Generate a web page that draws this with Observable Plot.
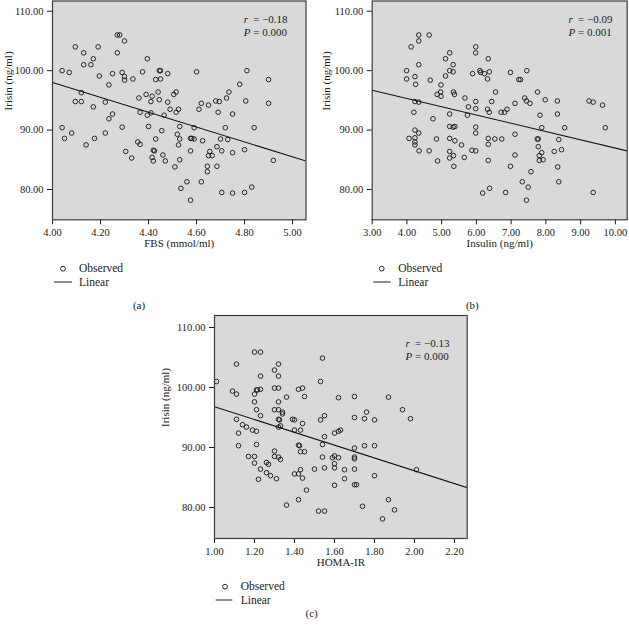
<!DOCTYPE html>
<html><head><meta charset="utf-8">
<script src="https://cdn.jsdelivr.net/npm/d3@7"></script>
<script src="https://cdn.jsdelivr.net/npm/@observablehq/plot@0.6"></script>
<style>
html,body{margin:0;padding:0;background:#fff;}
#wrap{position:relative;width:629px;height:626px;overflow:hidden;font-family:"Liberation Serif","Times New Roman",serif;}
#wrap svg{position:absolute;overflow:visible;}
</style></head><body><div id="wrap"></div>
<script>
// ---- data ----
const yTicks = [80, 90, 100, 110];
const fbsTicks = [4.0, 4.2, 4.4, 4.6, 4.8, 5.0];
const insulinTicks = [3, 4, 5, 6, 7, 8, 9, 10];
const homaTicks = [1.0, 1.2, 1.4, 1.6, 1.8, 2.0, 2.2];
const xLabels = ["FBS (mmol/ml)", "Insulin (ng/ml)", "HOMA-IR"];
const yLabel = "Irisin (ng/ml)";
const rValues = ["−0.18", "−0.09", "−0.13"];
const pValues = ["0.000", "0.001", "0.000"];
const captions = ["(a)", "(b)", "(c)"];
const legendLabels = ["Observed", "Linear"];

// [x, irisin]
const fbsPoints = [[4.27,106.0],[4.28,106.0],[4.30,105.0],[4.095,104.0],[4.19,104.0],[4.13,103.0],[4.27,103.0],[4.17,102.0],[4.395,102.0],[4.13,101.0],[4.16,101.0],[4.04,100.0],[4.07,99.7],[4.445,100.0],[4.45,100.0],[4.60,99.8],[4.81,100.0],[4.29,99.7],[4.375,99.8],[4.25,99.5],[4.48,99.5],[4.30,99.0],[4.195,99.1],[4.30,98.4],[4.335,98.6],[4.43,98.5],[4.45,98.6],[4.90,98.5],[4.78,97.7],[4.235,97.6],[4.12,96.3],[4.44,96.4],[4.515,96.4],[4.735,96.4],[4.39,96.0],[4.505,96.0],[4.415,95.7],[4.36,95.4],[4.725,95.4],[4.095,94.8],[4.12,94.8],[4.22,94.7],[4.41,94.8],[4.445,95.1],[4.48,94.7],[4.62,94.5],[4.68,94.9],[4.695,94.8],[4.805,94.9],[4.90,94.5],[4.65,94.2],[4.17,93.9],[4.49,93.5],[4.525,93.5],[4.61,93.5],[4.515,93.0],[4.365,93.0],[4.41,92.9],[4.69,93.0],[4.25,92.7],[4.75,92.7],[4.395,92.5],[4.465,92.5],[4.235,91.9],[4.04,90.4],[4.29,90.5],[4.40,90.6],[4.53,90.6],[4.59,90.4],[4.72,90.4],[4.84,90.4],[4.455,89.9],[4.08,89.5],[4.22,89.5],[4.52,89.3],[4.05,88.6],[4.175,88.6],[4.43,88.5],[4.53,88.5],[4.575,88.6],[4.58,88.6],[4.59,88.5],[4.625,88.2],[4.70,88.5],[4.73,88.4],[4.355,88.0],[4.365,87.6],[4.14,87.5],[4.525,87.5],[4.685,87.2],[4.42,86.6],[4.425,86.5],[4.305,86.4],[4.575,86.5],[4.655,86.4],[4.705,86.5],[4.75,86.2],[4.80,86.7],[4.46,85.8],[4.65,85.7],[4.665,85.7],[4.33,85.3],[4.415,85.4],[4.42,84.8],[4.47,84.8],[4.53,85.0],[4.92,84.9],[4.51,83.8],[4.645,83.9],[4.685,83.9],[4.645,83.0],[4.56,81.3],[4.62,81.3],[4.535,80.2],[4.83,80.4],[4.705,79.5],[4.75,79.4],[4.80,79.5],[4.575,78.2]];

const insulinPoints = [[4.34,106.0],[4.64,106.0],[4.34,105.0],[4.12,104.0],[5.98,104.0],[5.98,103.0],[5.23,103.0],[5.11,102.0],[6.34,102.0],[4.34,101.0],[5.33,101.0],[3.99,100.0],[5.23,100.0],[5.33,99.8],[6.10,100.0],[6.12,99.7],[6.23,99.5],[6.37,99.8],[5.89,99.5],[6.98,99.7],[7.45,100.0],[4.23,99.0],[5.11,99.1],[3.99,98.6],[4.67,98.4],[6.32,98.6],[7.22,98.5],[7.27,98.5],[4.25,97.7],[4.98,97.6],[7.76,96.4],[4.97,96.4],[5.34,96.4],[5.37,96.0],[4.87,96.0],[4.98,95.7],[6.55,96.4],[5.67,95.4],[7.39,95.4],[7.98,95.1],[4.23,94.8],[4.34,94.7],[5.98,94.8],[6.44,94.8],[7.11,94.5],[7.44,94.9],[7.54,94.5],[8.33,94.9],[9.24,94.9],[9.36,94.7],[9.63,94.2],[5.77,93.9],[5.98,93.6],[6.32,93.5],[6.37,93.0],[6.71,93.0],[6.81,93.0],[6.88,93.5],[4.20,93.0],[5.23,92.7],[5.74,92.5],[8.33,92.7],[7.83,92.5],[4.75,91.9],[5.23,90.6],[5.33,90.5],[5.38,90.6],[5.98,90.5],[7.88,90.4],[8.54,90.4],[9.71,90.4],[4.23,90.0],[4.34,89.5],[5.98,89.5],[7.11,89.3],[4.06,88.6],[4.23,88.7],[4.85,88.5],[5.23,88.6],[5.38,88.2],[6.34,88.6],[6.53,88.5],[6.73,88.5],[7.75,88.5],[7.78,88.5],[8.37,88.4],[4.23,88.0],[4.23,87.5],[5.57,87.5],[6.34,87.6],[7.78,87.2],[4.35,86.5],[4.64,86.5],[5.23,86.4],[5.87,86.6],[5.98,86.5],[7.88,86.2],[8.24,86.4],[8.45,86.7],[5.34,85.7],[5.23,85.3],[5.65,85.4],[7.11,85.8],[7.81,85.7],[7.81,84.9],[7.92,85.0],[4.88,84.8],[6.34,84.9],[5.35,83.9],[6.98,83.9],[8.34,83.8],[7.57,83.0],[7.32,81.3],[8.37,81.3],[7.49,80.4],[6.38,80.2],[6.18,79.4],[6.84,79.5],[9.36,79.5],[7.44,78.2]];

const homaPoints = [[1.20,105.9],[1.23,105.9],[1.54,104.9],[1.11,103.9],[1.32,103.9],[1.30,102.9],[1.32,101.9],[1.23,101.9],[1.01,101.0],[1.53,101.0],[1.09,99.4],[1.11,98.9],[1.20,98.9],[1.21,99.6],[1.215,99.6],[1.23,99.7],[1.30,99.9],[1.32,99.9],[1.42,99.7],[1.44,99.9],[1.36,98.4],[1.45,98.5],[1.62,98.3],[1.70,98.5],[1.87,98.4],[1.20,97.6],[1.32,97.6],[1.94,96.3],[1.21,96.3],[1.30,96.3],[1.32,96.3],[1.34,95.9],[1.34,95.6],[1.76,95.9],[1.23,95.3],[1.55,95.3],[1.70,95.0],[1.75,94.8],[1.80,94.6],[1.98,94.8],[1.11,94.7],[1.32,94.7],[1.325,94.6],[1.39,94.7],[1.40,94.6],[1.53,94.6],[1.14,93.8],[1.16,93.4],[1.32,93.4],[1.33,93.6],[1.44,94.0],[1.19,92.9],[1.21,92.7],[1.40,92.9],[1.43,92.9],[1.12,92.4],[1.60,92.4],[1.62,92.7],[1.63,92.9],[1.55,91.8],[1.21,90.5],[1.12,90.3],[1.42,90.4],[1.425,90.3],[1.54,90.5],[1.75,90.3],[1.80,90.3],[1.70,89.9],[1.30,89.4],[1.43,89.3],[1.45,89.3],[1.17,88.5],[1.20,88.5],[1.30,88.5],[1.32,88.4],[1.33,88.0],[1.54,88.4],[1.59,88.3],[1.60,88.6],[1.62,88.3],[1.70,88.4],[1.70,88.1],[1.26,87.5],[1.27,87.2],[1.20,87.4],[1.60,87.3],[1.43,86.3],[1.42,85.6],[1.40,85.6],[1.50,86.4],[1.55,86.6],[1.60,86.6],[1.65,86.3],[1.70,86.4],[2.01,86.3],[1.23,86.4],[1.26,85.8],[1.28,85.3],[1.31,84.8],[1.22,84.7],[1.44,84.9],[1.65,84.8],[1.80,85.3],[1.60,83.7],[1.70,83.8],[1.71,83.8],[1.46,82.9],[1.42,81.3],[1.87,81.3],[1.36,80.4],[1.74,80.2],[1.52,79.4],[1.55,79.4],[1.90,79.6],[1.84,78.1]];

// linear fit end points [x, irisin]
const fbsFit = [[4.0, 98.0], [5.056, 84.8]];
const insulinFit = [[3.0, 96.7], [10.34, 86.5]];
const homaFit = [[1.0, 96.8], [2.2635, 83.3]];

// ---- layout ----
const panels = [
  {points: fbsPoints, fit: fbsFit, ticks: fbsTicks, xDomain: [4.0, 5.056], yDomain: [74.9, 111.72],
   left: 0, top: 0, w: 312, h: 240, mt: 0.5, ml: 52, mr: 6.5, mb: 20.7,
   yLabDx: -44, statStart: -62.3, rDy: 14.5, pDy: 27,
   leg: {cx: 63, cy: 268.7, lx1: 54, lx2: 72, ly: 282, tx: 79, capX: 139, capY: 305}},
  {points: insulinPoints, fit: insulinFit, ticks: insulinTicks, xDomain: [3.0, 10.34], yDomain: [74.9, 111.72],
   left: 318, top: 0, w: 311, h: 240, mt: 0.5, ml: 53.7, mr: 2.3, mb: 20.7,
   yLabDx: -46, statStart: -58.7, rDy: 14.5, pDy: 27,
   leg: {cx: 381.7, cy: 268.7, lx1: 373.3, lx2: 390.7, ly: 282, tx: 398.3, capX: 472.3, capY: 305}},
  {points: homaPoints, fit: homaFit, ticks: homaTicks, xDomain: [1.0, 2.2635], yDomain: [74.83, 112],
   left: 160, top: 314, w: 320, h: 240, mt: 1, ml: 54, mr: 13.3, mb: 16,
   yLabDx: -49, statStart: -61.7, rDy: 23.7, pDy: 36.7,
   leg: {cx: 225, cy: 586.7, lx1: 215.7, lx2: 232.3, ly: 600, tx: 240.7, capX: 311.7, capY: 613.3}}
];

const wrap = document.getElementById("wrap");
const fmt = d => d.toFixed(2);
const ink = "#1a1a1a";

panels.forEach((p, i) => {
  const svg = Plot.plot({
    width: p.w, height: p.h,
    marginTop: p.mt, marginLeft: p.ml, marginRight: p.mr, marginBottom: p.mb,
    style: {fontFamily: "Liberation Serif, serif", fontSize: "10.5px", color: ink, background: "transparent", overflow: "visible"},
    x: {domain: p.xDomain},
    y: {domain: p.yDomain},
    marks: [
      Plot.frame({fill: "#d9d9d9"}),
      Plot.axisX({ticks: p.ticks, tickFormat: fmt, tickSize: 5, tickPadding: 4, label: null, fontSize: 10.5}),
      Plot.axisY({ticks: yTicks, tickFormat: fmt, tickSize: 5, tickPadding: 4, label: null, fontSize: 10.5}),
      Plot.dot(p.points, {x: d => d[0], y: d => d[1], r: 2.3, stroke: "#1c1c1c", strokeWidth: 0.95, fill: "none"}),
      Plot.line(p.fit, {x: d => d[0], y: d => d[1], stroke: "#111", strokeWidth: 1.1, clip: true}),
      Plot.frame({stroke: "#3c3c3c", strokeWidth: 1.2}),
      Plot.text([xLabels[i]], {text: d => d, frameAnchor: "bottom", dy: 27, fontSize: 11, fill: ink}),
      Plot.text([yLabel], {text: d => d, frameAnchor: "left", rotate: -90, dx: p.yLabDx, fontSize: 11, fill: ink}),
      Plot.text(["r"], {text: d => d, frameAnchor: "top-right", textAnchor: "start", dx: p.statStart, dy: p.rDy, fontSize: 11, fontStyle: "italic", fill: ink}),
      Plot.text([rValues[i]], {text: d => "= " + d, frameAnchor: "top-right", textAnchor: "start", dx: p.statStart + 9.5, dy: p.rDy, fontSize: 11, fill: ink}),
      Plot.text(["P"], {text: d => d, frameAnchor: "top-right", textAnchor: "start", dx: p.statStart, dy: p.pDy, fontSize: 11, fontStyle: "italic", fill: ink}),
      Plot.text([pValues[i]], {text: d => "= " + d, frameAnchor: "top-right", textAnchor: "start", dx: p.statStart + 9.5, dy: p.pDy, fontSize: 11, fill: ink})
    ]
  });
  svg.style.left = p.left + "px";
  svg.style.top = p.top + "px";
  wrap.appendChild(svg);
});

// legends and captions below each panel
const overlay = d3.select(wrap).append("svg")
  .attr("width", 629).attr("height", 626)
  .style("left", "0px").style("top", "0px")
  .style("font-family", "Liberation Serif, serif");
panels.forEach((p, i) => {
  const L = p.leg;
  overlay.append("circle").attr("cx", L.cx).attr("cy", L.cy).attr("r", 2.4)
    .attr("fill", "none").attr("stroke", "#1c1c1c").attr("stroke-width", 0.95);
  overlay.append("line").attr("x1", L.lx1).attr("x2", L.lx2).attr("y1", L.ly).attr("y2", L.ly)
    .attr("stroke", ink).attr("stroke-width", 1);
  overlay.append("text").attr("x", L.tx).attr("y", L.cy).attr("dy", "0.32em")
    .attr("font-size", 11.5).attr("fill", ink).text(legendLabels[0]);
  overlay.append("text").attr("x", L.tx).attr("y", L.ly).attr("dy", "0.32em")
    .attr("font-size", 11.5).attr("fill", ink).text(legendLabels[1]);
  overlay.append("text").attr("x", L.capX).attr("y", L.capY).attr("dy", "0.32em")
    .attr("text-anchor", "middle").attr("font-size", 11).attr("fill", ink).text(captions[i]);
});
</script></body></html>
